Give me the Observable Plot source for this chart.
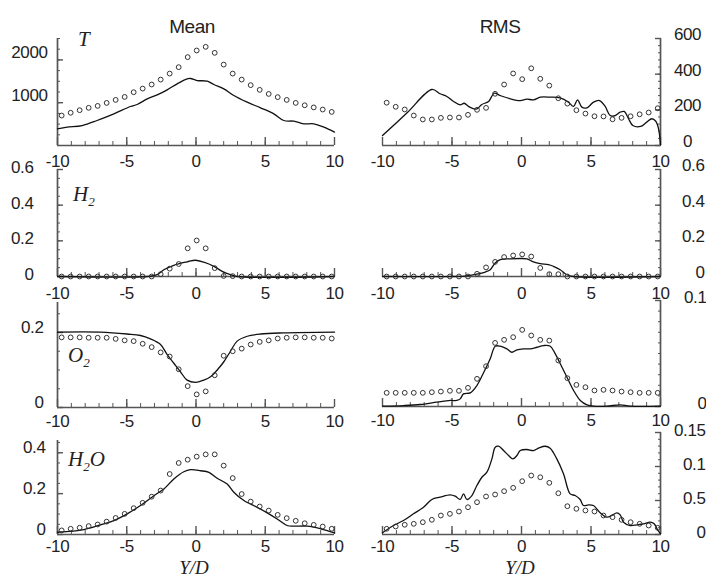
<!DOCTYPE html>
<html><head><meta charset="utf-8">
<script src="https://cdn.jsdelivr.net/npm/d3@7"></script>
<script src="https://cdn.jsdelivr.net/npm/@observablehq/plot@0.6"></script>
<style>
body{margin:0;background:#fff;}
#fig{position:relative;width:706px;height:579px;overflow:hidden;background:#fff;}
#fig svg{position:absolute;}
.ttl{position:absolute;font-family:"Liberation Sans",Arial,sans-serif;font-size:19px;line-height:19px;color:#222;text-align:center;width:100px;letter-spacing:-0.5px;}
.sp{position:absolute;font-family:"Liberation Serif","Times New Roman",serif;font-style:italic;font-size:21px;line-height:21px;color:#222;white-space:nowrap;}
.sp sub{font-size:13px;vertical-align:baseline;position:relative;top:5px;}
.yd{font-size:19px;line-height:19px;}
</style></head><body>
<div id="fig">
  <div class="ttl" style="left:142px;top:17px;">Mean</div>
  <div class="ttl" style="left:450px;top:17px;">RMS</div>
  <div class="sp" style="left:78px;top:29px;">T</div>
  <div class="sp" style="left:73px;top:184px;">H<sub>2</sub></div>
  <div class="sp" style="left:68px;top:345px;">O<sub>2</sub></div>
  <div class="sp" style="left:68px;top:449px;">H<sub>2</sub>O</div>
  <div class="sp yd" style="left:144px;top:558px;width:100px;text-align:center;">Y/D</div>
  <div class="sp yd" style="left:470px;top:558px;width:100px;text-align:center;">Y/D</div>
</div>
<script>
// ---- data ----
const xTicks = [-10, -5, 0, 5, 10];
const xExp = [-9.7, -9.05, -8.4, -7.75, -7.1, -6.45, -5.8, -5.15, -4.5, -3.85, -3.2, -2.55, -1.9, -1.25, -0.6, 0.05, 0.7, 1.35, 2.0, 2.65, 3.3, 3.95, 4.6, 5.25, 5.9, 6.55, 7.2, 7.85, 8.5, 9.15, 9.8];

const tMeanExp = [700, 765, 825, 880, 925, 995, 1065, 1135, 1245, 1330, 1425, 1540, 1680, 1830, 2065, 2220, 2305, 2165, 1890, 1680, 1540, 1410, 1300, 1205, 1130, 1065, 995, 940, 890, 840, 785];
const tMeanLineX = [-10, -9.3, -8.22, -7.14, -5.93, -4.73, -4.25, -3.52, -2.8, -2.08, -1.36, -0.64, -0.4, 0.09, 0.81, 1.29, 2.01, 2.73, 3.7, 4.66, 5.62, 6.34, 7.06, 7.78, 8.51, 9.23, 10];
const tMeanLineY = [390, 428, 467, 584, 740, 911, 958, 1090, 1184, 1301, 1441, 1558, 1565, 1518, 1503, 1425, 1324, 1168, 1012, 880, 740, 584, 568, 506, 506, 428, 311];

const tRmsExp = [240, 217, 202, 168, 146, 146, 155, 157, 157, 172, 200, 211, 290, 342, 404, 372, 433, 374, 336, 265, 235, 198, 179, 164, 163, 147, 155, 164, 175, 185, 209];
const tRmsLineX = [-10, -8.25, -6.45, -5.85, -5.37, -4.89, -4.41, -4.12, -3.81, -3.26, -2.85, -2.37, -1.96, -1.53, -0.81, -0.09, 0.38, 0.86, 1.35, 2.06, 2.78, 3.38, 3.74, 4.03, 4.34, 4.7, 5.18, 5.61, 6.02, 6.38, 6.74, 7.1, 7.39, 7.7, 8.01, 8.58, 9.01, 9.37, 9.66, 9.86, 10];
const tRmsLineY = [56, 182, 314, 290, 275, 247, 228, 237, 219, 204, 230, 247, 293, 280, 262, 252, 260, 256, 271, 271, 267, 243, 219, 256, 215, 211, 243, 252, 219, 168, 168, 187, 191, 150, 112, 107, 131, 150, 136, 94, 5];

const h2MeanExp = [0, 0, 0, 0, 0, 0, 0, 0, 0, 0, 0, 0.013, 0.044, 0.070, 0.158, 0.202, 0.158, 0.047, 0.003, 0.002, 0, 0, 0, 0, 0, 0, 0, 0, 0, 0, 0];
const h2MeanLineX = [-10, -3.49, -2.8, -2.32, -1.6, -0.64, -0.04, 0.56, 1.29, 1.89, 2.49, 2.97, 10];
const h2MeanLineY = [0, 0, 0.010, 0.038, 0.063, 0.082, 0.091, 0.080, 0.057, 0.029, 0.010, 0, 0];

const h2RmsExp = [0, 0, 0, 0, 0, 0, 0, 0, 0, 0, 0.015, 0.051, 0.082, 0.109, 0.118, 0.124, 0.112, 0.048, 0.013, 0.013, 0, 0, 0, 0, 0, 0, 0, 0, 0, 0, 0];
const h2RmsLineX = [-10, -4.89, -3.93, -3.22, -2.61, -2.25, -1.89, -1.53, -0.81, -0.09, 0.38, 0.86, 1.35, 1.94, 2.3, 2.78, 3.26, 3.74, 10];
const h2RmsLineY = [0, 0, 0.004, 0.013, 0.025, 0.038, 0.076, 0.095, 0.099, 0.101, 0.099, 0.082, 0.072, 0.067, 0.057, 0.038, 0.010, 0, 0];

const o2MeanExp = [0.187, 0.187, 0.187, 0.186, 0.186, 0.186, 0.183, 0.179, 0.177, 0.170, 0.161, 0.147, 0.136, 0.102, 0.057, 0.035, 0.043, 0.086, 0.138, 0.150, 0.157, 0.168, 0.175, 0.179, 0.184, 0.186, 0.187, 0.187, 0.186, 0.186, 0.184];
const o2MeanLineX = [-10, -6.9, -4.97, -4.01, -3.29, -2.56, -2.08, -1.6, -1.12, -0.64, -0.04, 0.56, 1.05, 1.53, 2.01, 2.49, 2.97, 3.7, 4.66, 6.34, 10];
const o2MeanLineY = [0.201, 0.201, 0.196, 0.192, 0.183, 0.168, 0.141, 0.118, 0.095, 0.073, 0.067, 0.073, 0.082, 0.100, 0.122, 0.150, 0.177, 0.190, 0.196, 0.199, 0.201];

const o2RmsExp = [0.0129, 0.0129, 0.0129, 0.0129, 0.0129, 0.0135, 0.0141, 0.0148, 0.0148, 0.0176, 0.0261, 0.0380, 0.0600, 0.0629, 0.0654, 0.0723, 0.0670, 0.0629, 0.0622, 0.0434, 0.0267, 0.0204, 0.0182, 0.0151, 0.0157, 0.0151, 0.0141, 0.0135, 0.0129, 0.0129, 0.0129];
const o2RmsLineX = [-10, -8.49, -7.29, -6.09, -5.13, -4.65, -4.41, -4.17, -3.69, -3.21, -2.73, -2.25, -1.89, -1.53, -1.05, -0.69, -0.33, 0.15, 0.63, 1.11, 1.59, 2.07, 2.43, 2.79, 3.27, 3.75, 4.23, 4.71, 5.19, 6.14, 7.1, 7.82, 10];
const o2RmsLineY = [0.0003, 0.0009, 0.0019, 0.0041, 0.0057, 0.0057, 0.0072, 0.0119, 0.0129, 0.0198, 0.0318, 0.0450, 0.0569, 0.0569, 0.0544, 0.0512, 0.0534, 0.0544, 0.0544, 0.0559, 0.0575, 0.0569, 0.0497, 0.0403, 0.0276, 0.0151, 0.0057, 0.0016, 0.0003, 0.0003, 0.0016, 0.0003, 0.0003];

const h2oMeanExp = [0.020, 0.028, 0.033, 0.041, 0.049, 0.063, 0.081, 0.101, 0.129, 0.155, 0.185, 0.215, 0.296, 0.350, 0.366, 0.381, 0.392, 0.392, 0.337, 0.276, 0.198, 0.161, 0.137, 0.117, 0.096, 0.080, 0.067, 0.055, 0.047, 0.039, 0.028];
const h2oMeanLineX = [-10, -8.09, -6.9, -5.93, -4.97, -4.01, -3.04, -2.32, -1.6, -0.88, -0.4, 0.33, 0.93, 1.53, 2.25, 2.73, 3.46, 4.42, 5.14, 5.86, 6.58, 7.06, 8.03, 9.0, 10];
const h2oMeanLineY = [0.011, 0.024, 0.047, 0.068, 0.101, 0.142, 0.190, 0.223, 0.272, 0.307, 0.317, 0.312, 0.304, 0.275, 0.247, 0.207, 0.166, 0.133, 0.106, 0.076, 0.044, 0.041, 0.041, 0.028, 0.008];

const h2oRmsExp = [0.0084, 0.0118, 0.0143, 0.0157, 0.0181, 0.0216, 0.0279, 0.0304, 0.0338, 0.0401, 0.0475, 0.0559, 0.0588, 0.0637, 0.0686, 0.0784, 0.0867, 0.0842, 0.0760, 0.0607, 0.0416, 0.0378, 0.0353, 0.0338, 0.0279, 0.0255, 0.0216, 0.0181, 0.0157, 0.0132, 0.0098];
const h2oRmsLineX = [-10, -9.21, -8.49, -7.77, -7.05, -6.45, -5.85, -5.13, -4.77, -4.41, -4.17, -3.93, -3.57, -3.21, -2.85, -2.49, -2.13, -1.89, -1.65, -1.29, -0.93, -0.62, -0.33, -0.09, 0.38, 0.86, 1.22, 1.7, 2.06, 2.54, 3.02, 3.5, 3.86, 4.22, 4.46, 4.82, 5.18, 5.66, 6.14, 6.5, 6.86, 7.1, 7.34, 7.82, 8.3, 8.78, 9.26, 9.54, 9.78, 10];
const h2oRmsLineY = [0.0025, 0.0132, 0.0206, 0.0304, 0.0401, 0.0515, 0.0549, 0.0583, 0.0563, 0.0515, 0.0598, 0.0515, 0.0573, 0.0720, 0.0842, 0.0916, 0.1112, 0.1283, 0.1298, 0.1235, 0.1161, 0.1112, 0.1161, 0.1235, 0.1250, 0.1235, 0.1269, 0.1298, 0.1269, 0.1112, 0.0893, 0.0598, 0.0573, 0.0515, 0.0426, 0.0437, 0.0426, 0.0319, 0.0255, 0.0279, 0.0319, 0.0289, 0.0181, 0.0132, 0.0143, 0.0157, 0.0181, 0.0157, 0.0073, 0.0010];

// y tick values and their printed labels
const tMeanTicks = [1000, 2000], tMeanLabels = ["1000", "2000"];
const tRmsTicks = [0, 200, 400, 600], tRmsLabels = ["0", "200", "400", "600"];
const h2Ticks = [0, 0.2, 0.4, 0.6], h2Labels = ["0", "0.2", "0.4", "0.6"];
const o2MeanTicks = [0, 0.2], o2MeanLabels = ["0", "0.2"];
const o2RmsTicks = [0, 0.1], o2RmsLabels = ["0", "0.1"];
const h2oMeanTicks = [0, 0.2, 0.4], h2oMeanLabels = ["0", "0.2", "0.4"];
const h2oRmsTicks = [0, 0.05, 0.1, 0.15], h2oRmsLabels = ["0", "0.5", "0.1", "0.15"];

// ---- drawing ----
const FONT = '"Liberation Sans",Arial,sans-serif';
const AX = "#555";
const fig = document.getElementById("fig");
const zip = (xs, ys) => xs.map((x, i) => ({x, y: ys[i]}));
const xMinor = d3.range(-10, 10.001, 1);

function panel(c) {
  const left = c.side === "left";
  const mt = 12, mb = 36;
  const ml = left ? 57 : 29, mr = left ? 19 : 46;
  const height = c.bottom - c.top + mt + mb;
  const labelMap = new Map(c.yTicks.map((t, i) => [t, c.yLabels[i]]));
  const svg = Plot.plot({
    width: 353, height, marginTop: mt, marginBottom: mb, marginLeft: ml, marginRight: mr,
    style: {background: "transparent", overflow: "visible", fontFamily: FONT, fontSize: "17px", color: "#222", letterSpacing: "-0.4px"},
    x: {domain: [-10, 10], axis: null},
    y: {domain: c.yDomain, axis: null},
    marks: [
      Plot.axisX(xMinor, {tickSize: -4, tickFormat: () => "", stroke: AX, strokeWidth: 1, label: null}),
      Plot.axisX(xTicks, {tickSize: -8, tickFormat: () => "", stroke: AX, strokeWidth: 1.4, label: null}),
      Plot.axisX(xTicks, {tickSize: 0, tickPadding: c.xPad, tickFormat: d => String(d), label: null}),
      Plot.axisY(c.yMinor, {anchor: c.side, tickSize: -3, tickFormat: () => "", stroke: AX, strokeWidth: 1, label: null}),
      Plot.axisY(c.yTicks, {anchor: c.side, tickSize: -6, tickFormat: () => "", stroke: AX, strokeWidth: 1.4, label: null}),
      Plot.axisY(c.yTicks, {anchor: c.side, tickSize: 0, tickPadding: c.yPad, dy: c.yDy, textAnchor: c.yAnchor, tickFormat: d => labelMap.get(d), label: null}),
      Plot.ruleY([c.yDomain[0]], {stroke: AX, strokeWidth: 1.7}),
      Plot.ruleX([left ? -10 : 10], {stroke: AX, strokeWidth: 1.7}),
      Plot.line(c.line, {x: "x", y: "y", stroke: "#111", strokeWidth: 1.3, curve: "catmull-rom"}),
      Plot.dot(c.dots, {x: "x", y: "y", r: 2.4, stroke: "#333", strokeWidth: 1, fill: "none"})
    ]
  });
  svg.style.left = (left ? 0 : 353) + "px";
  svg.style.top = (c.top - mt) + "px";
  fig.appendChild(svg);
}

panel({side: "left", top: 38, bottom: 145, yDomain: [0, 2500], yTicks: tMeanTicks, yLabels: tMeanLabels, yMinor: d3.range(0, 2501, 250), yPad: 10, yDy: -7, yAnchor: "end", xPad: 9,
  line: zip(tMeanLineX, tMeanLineY), dots: zip(xExp, tMeanExp)});
panel({side: "right", top: 38, bottom: 145, yDomain: [0, 600], yTicks: tRmsTicks, yLabels: tRmsLabels, yMinor: d3.range(0, 601, 40), yPad: 27, yDy: -4, yAnchor: "middle", xPad: 9,
  line: zip(tRmsLineX, tRmsLineY), dots: zip(xExp, tRmsExp)});

panel({side: "left", top: 169, bottom: 276, yDomain: [0, 0.6], yTicks: h2Ticks, yLabels: h2Labels, yMinor: d3.range(0, 0.601, 0.05), yPad: 24, yDy: -2, yAnchor: "end", xPad: 10,
  line: zip(h2MeanLineX, h2MeanLineY), dots: zip(xExp, h2MeanExp)});
panel({side: "right", top: 169, bottom: 276, yDomain: [0, 0.6], yTicks: h2Ticks, yLabels: h2Labels, yMinor: d3.range(0, 0.601, 0.05), yPad: 44, yDy: -4, yAnchor: "end", xPad: 10,
  line: zip(h2RmsLineX, h2RmsLineY), dots: zip(xExp, h2RmsExp)});

panel({side: "left", top: 302, bottom: 407, yDomain: [0, 0.28], yTicks: o2MeanTicks, yLabels: o2MeanLabels, yMinor: d3.range(0, 0.281, 0.05), yPad: 14, yDy: -5, yAnchor: "end", xPad: 7,
  line: zip(o2MeanLineX, o2MeanLineY), dots: zip(xExp, o2MeanExp)});
panel({side: "right", top: 300, bottom: 406, yDomain: [0, 0.1], yTicks: o2RmsTicks, yLabels: o2RmsLabels, yMinor: d3.range(0, 0.1001, 0.01), yPad: 46, yDy: -3, yAnchor: "end", xPad: 7,
  line: zip(o2RmsLineX, o2RmsLineY), dots: zip(xExp, o2RmsExp)});

panel({side: "left", top: 440, bottom: 534, yDomain: [0, 0.46], yTicks: h2oMeanTicks, yLabels: h2oMeanLabels, yMinor: d3.range(0, 0.461, 0.05), yPad: 12, yDy: -5, yAnchor: "end", xPad: 5,
  line: zip(h2oMeanLineX, h2oMeanLineY), dots: zip(xExp, h2oMeanExp)});
panel({side: "right", top: 432, bottom: 534, yDomain: [0, 0.15], yTicks: h2oRmsTicks, yLabels: h2oRmsLabels, yMinor: d3.range(0, 0.1501, 0.01), yPad: 45, yDy: -2, yAnchor: "end", xPad: 5,
  line: zip(h2oRmsLineX, h2oRmsLineY), dots: zip(xExp, h2oRmsExp)});
</script>
</body></html>
